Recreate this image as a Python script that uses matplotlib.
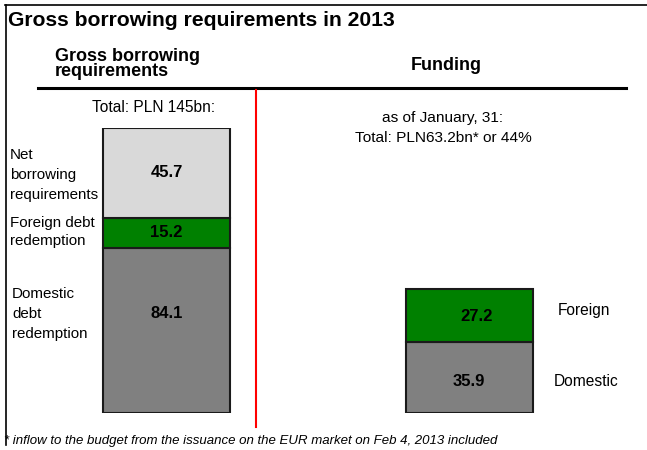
import matplotlib
matplotlib.use("Agg")
import matplotlib.pyplot as plt

plt.rcParams['font.family'] = ['Liberation Sans', 'DejaVu Sans']

# ---- data ----
left_segments = ["Domestic debt redemption", "Foreign debt redemption", "Net borrowing requirements"]
left_values = [84.1, 15.2, 45.7]
right_segments = ["Domestic", "Foreign"]
right_values = [35.9, 27.2]
bar_positions = [0, 1]
left_colors = ["#808080", "#008000", "#D9D9D9"]
right_colors = ["#808080", "#008000"]

title = "Gross borrowing requirements in 2013"
left_header = "Gross borrowing\nrequirements"
right_header = "Funding"
left_note = "Total: PLN 145bn:"
right_note = "as of January, 31:\nTotal: PLN63.2bn* or 44%"
left_labels = ["Domestic\ndebt\nredemption", "Foreign debt\nredemption", "Net\nborrowing\nrequirements"]
footnote = "* inflow to the budget from the issuance on the EUR market on Feb 4, 2013 included"

W, H = 647, 450
fig = plt.figure(figsize=(W / 100, H / 100), dpi=100)

# main bar axes: x=0 -> 166.5px, x=1 -> 469px ; y=0 -> 413px, y=145 -> 128px
unit = 469 - 166.5
xl, xr = -0.5, 1.5
ax_left_px = 166.5 + xl * unit
ax_w_px = (xr - xl) * unit
ax = fig.add_axes([ax_left_px / W, (H - 413) / H, ax_w_px / W, (413 - 128) / H])
ax.set_xlim(xl, xr)
ax.set_ylim(0, 145)
ax.axis('off')

bw = 127 / unit
px = 0.72  # points per pixel at dpi 100

# label offsets (pixels, right/up) as placed in the reference
left_offsets = [(0, 17), (0, 0), (0, 0)]
right_offsets = [(0, -4), (8, -1)]

bottom = 0
for v, c, off in zip(left_values, left_colors, left_offsets):
    ax.bar(bar_positions[0], v, bottom=bottom, width=bw, color=c, edgecolor='#1a1a1a', linewidth=1.5)
    ax.annotate(f"{v:.1f}", (bar_positions[0], bottom + v / 2), xytext=(off[0] * px, off[1] * px),
                textcoords='offset points', ha='center', va='center', fontsize=12, fontweight='bold')
    bottom += v

bottom = 0
for v, c, off in zip(right_values, right_colors, right_offsets):
    ax.bar(bar_positions[1], v, bottom=bottom, width=bw, color=c, edgecolor='#1a1a1a', linewidth=1.5)
    ax.annotate(f"{v:.1f}", (bar_positions[1], bottom + v / 2), xytext=(off[0] * px, off[1] * px),
                textcoords='offset points', ha='center', va='center', fontsize=12, fontweight='bold')
    bottom += v

# overlay axes in pixel coordinates for decorations
ov = fig.add_axes([0, 0, 1, 1], zorder=-1)
ov.set_xlim(0, W)
ov.set_ylim(H, 0)
ov.axis('off')

# frame lines
ov.plot([5, 647], [5, 5], color='black', lw=1.2)
ov.plot([6, 6], [5, 445], color='black', lw=1.2)
# header rule
ov.plot([38, 626], [88, 88], color='black', lw=2.2)
# red separator
ov.plot([256, 256], [90, 427], color='#ff0000', lw=1.5)

ov.text(8, 20, title, fontsize=15.2, fontweight='bold', ha='left', va='center')
ov.text(55, 64, left_header, fontsize=13, fontweight='bold', ha='left', va='center', linespacing=0.88)
ov.text(446, 66, right_header, fontsize=13, fontweight='bold', ha='center', va='center')

ov.text(154, 107, left_note, fontsize=11.2, ha='center', va='center')
ov.text(443, 128, right_note, fontsize=11.1, ha='center', va='center', linespacing=1.56)

ov.text(10, 175, left_labels[2], fontsize=10.9, ha='left', va='center', linespacing=1.52)
ov.text(10, 232, left_labels[1], fontsize=10.9, ha='left', va='center', linespacing=1.35)
ov.text(12, 314, left_labels[0], fontsize=10.9, ha='left', va='center', linespacing=1.52)

ov.text(558, 311, right_segments[1], fontsize=11.2, ha='left', va='center')
ov.text(554, 382, right_segments[0], fontsize=11.2, ha='left', va='center')

ov.text(4, 441, footnote, fontsize=9.5, style='italic', ha='left', va='center')

fig.savefig("out.png", dpi=100)
